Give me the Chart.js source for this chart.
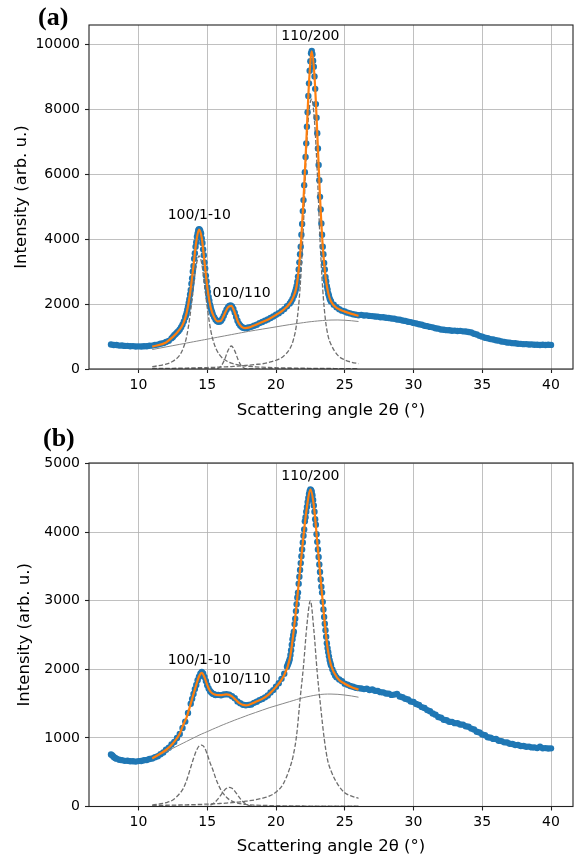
<!DOCTYPE html>
<html>
<head>
<meta charset="utf-8">
<script src="https://cdn.jsdelivr.net/npm/chart.js@4.4.1/dist/chart.umd.min.js"></script>
<style>
  html, body { margin: 0; padding: 0; background: #fff; }
  #wrap { position: relative; width: 577px; height: 857px; overflow: hidden; }
  #chartA { position: absolute; left: 0; top: 0; }
  #chartB { position: absolute; left: 0; top: 428px; }
</style>
</head>
<body>
<div id="wrap">
  <canvas id="chartA" width="577" height="428"></canvas>
  <canvas id="chartB" width="577" height="429"></canvas>
</div>
<script>
// ---- axis ticks ----
const angleTicks = [10, 15, 20, 25, 30, 35, 40];
const intensityTicksA = [0, 2000, 4000, 6000, 8000, 10000];
const intensityTicksB = [0, 1000, 2000, 3000, 4000, 5000];
const peakLabels = ['100/1-10', '010/110', '110/200'];

// ---- panel (a): measured points ----
const angleA = [
  8.0, 8.2, 8.4, 8.6, 8.8, 9.0, 9.2, 9.4, 9.6, 9.8, 10.0, 10.2, 10.4, 10.6, 10.8, 11.0, 11.2, 11.4, 11.6, 11.8, 12.0, 12.2, 12.4,
  12.5, 12.6, 12.7, 12.8, 12.9, 13.0, 13.1, 13.2, 13.3, 13.4,
  13.45, 13.5, 13.55, 13.6, 13.65, 13.7, 13.75, 13.8, 13.85, 13.9, 13.95, 14.0, 14.05, 14.1, 14.15, 14.2, 14.25, 14.3, 14.35, 14.4,
  14.45, 14.5, 14.55, 14.6, 14.65, 14.7, 14.75, 14.8, 14.85, 14.9, 14.95, 15.0, 15.05, 15.1, 15.15, 15.2, 15.25, 15.3, 15.35, 15.4,
  15.5, 15.6, 15.7, 15.8, 15.9, 16.0, 16.1, 16.2, 16.3, 16.4, 16.5, 16.6, 16.7, 16.8, 16.9, 17.0, 17.1, 17.2, 17.3, 17.4, 17.5,
  17.6, 17.7, 17.8, 17.9, 18.0,
  18.2, 18.4, 18.6, 18.8, 19.0, 19.2, 19.4, 19.6, 19.8, 20.0, 20.2, 20.4, 20.6, 20.8, 21.0, 21.1, 21.2, 21.3,
  21.35, 21.4, 21.45, 21.5, 21.55, 21.6, 21.65, 21.7, 21.75, 21.8, 21.85, 21.9, 21.95, 22.0, 22.05, 22.1, 22.15, 22.2, 22.25, 22.3,
  22.35, 22.4, 22.45, 22.5, 22.55, 22.6, 22.65, 22.7, 22.75, 22.8, 22.85, 22.9, 22.95, 23.0, 23.05, 23.1, 23.15, 23.2, 23.25, 23.3,
  23.35, 23.4, 23.45, 23.5, 23.55, 23.6, 23.65, 23.7, 23.75, 23.8, 23.85, 23.9, 23.95, 24.0,
  24.2, 24.4, 24.6, 24.8, 25.0, 25.2, 25.4, 25.6, 25.8, 26.0, 26.2, 26.4, 26.6, 26.8, 27.0, 27.2, 27.4, 27.6, 27.8, 28.0,
  28.2, 28.4, 28.6, 28.8, 29.0, 29.2, 29.4, 29.6, 29.8, 30.0, 30.2, 30.4, 30.6, 30.8, 31.0, 31.2, 31.4, 31.6, 31.8, 32.0,
  32.2, 32.4, 32.6, 32.8, 33.0, 33.2, 33.4, 33.6, 33.8, 34.0, 34.2, 34.4, 34.6, 34.8, 35.0, 35.2, 35.4, 35.6, 35.8, 36.0,
  36.2, 36.4, 36.6, 36.8, 37.0, 37.2, 37.4, 37.6, 37.8, 38.0, 38.2, 38.4, 38.6, 38.8, 39.0, 39.2, 39.4, 39.6, 39.8, 40.0
];
const intensityA = [
  755, 740, 738, 722, 725, 712, 714, 702, 706, 694, 698, 692, 702, 700, 716, 722, 742, 752, 778, 798, 835, 868, 945,
  990, 1040, 1080, 1125, 1165, 1220, 1290, 1370, 1470, 1590,
  1655, 1730, 1830, 1920, 2040, 2150, 2300, 2440, 2630, 2800, 3010, 3180, 3400, 3570, 3770, 3910, 4080, 4180, 4280, 4310,
  4300, 4250, 4180, 4030, 3890, 3690, 3510, 3290, 3100, 2880, 2710, 2520, 2380, 2220, 2110, 1980, 1905, 1815, 1755, 1685,
  1600, 1530, 1480, 1455, 1460, 1490, 1550, 1640, 1740, 1830, 1900, 1945, 1960, 1930, 1850, 1740, 1610, 1490, 1400, 1340, 1300,
  1275, 1265, 1260, 1265, 1280,
  1300, 1335, 1365, 1415, 1448, 1492, 1528, 1575, 1618, 1672, 1718, 1785, 1848, 1935, 2020, 2085, 2160, 2260,
  2320, 2390, 2470, 2560, 2690, 2850, 3070, 3290, 3540, 3770, 4140, 4470, 4870, 5210, 5670, 6070, 6540, 6960, 7470, 7920,
  8420, 8810, 9200, 9490, 9740, 9810, 9710, 9510, 9320, 9020, 8640, 8170, 7750, 7270, 6800, 6290, 5820, 5310, 4920, 4490,
  4140, 3770, 3540, 3270, 3070, 2840, 2710, 2550, 2450, 2330, 2260, 2175, 2125, 2080,
  1985, 1905, 1845, 1800, 1772, 1738, 1715, 1688, 1675, 1660, 1668, 1650, 1655, 1638, 1632, 1618, 1614, 1598, 1594, 1580,
  1575, 1558, 1548, 1528, 1518, 1496, 1484, 1458, 1446, 1422, 1404, 1378, 1364, 1336, 1322, 1298, 1284, 1258, 1244, 1218,
  1212, 1198, 1194, 1182, 1184, 1172, 1176, 1162, 1158, 1142, 1124, 1088, 1064, 1022, 998, 966, 948, 922, 908, 886,
  874, 848, 838, 818, 812, 798, 792, 778, 776, 766, 768, 756, 758, 748, 748, 742, 748, 742, 746, 744
];

// ---- panel (a): fitted curves ----
const compAngleA = [11, 12, 12.5, 13, 13.25, 13.5, 13.75, 14, 14.2, 14.4, 14.6, 14.8, 15, 15.25, 15.5, 15.75, 16, 16.25, 16.5, 16.75,
  17, 17.25, 17.5, 17.75, 18, 18.5, 19, 19.5, 20, 20.5, 21, 21.25, 21.5, 21.75, 22, 22.2, 22.4, 22.6, 22.8, 23, 23.2, 23.4, 23.6,
  23.8, 24, 24.5, 25, 25.5, 26];
const fitA = [690, 820, 990, 1220, 1400, 1730, 2320, 3190, 3920, 4300, 4040, 3300, 2530, 1900, 1600, 1470, 1490, 1690, 1900, 1950,
  1740, 1440, 1300, 1262, 1275, 1360, 1450, 1545, 1670, 1810, 2020, 2210, 2560, 3520, 5220, 6970, 8820, 9800, 9030, 7280, 5320,
  3780, 2850, 2340, 2080, 1860, 1770, 1700, 1640];
const peak1A = [70, 150, 240, 430, 640, 1000, 1650, 2550, 3200, 3490, 3250, 2600, 1900, 1200, 780, 530, 380, 290, 225, 180,
  150, 125, 107, 95, 85, 68, 56, 47, 40, 35, 31, 29, 27, 26, 24, 23, 22, 21, 20, 19, 18, 17, 16, 16, 15, 14, 12, 11, 10];
const peak2A = [0, 0, 0, 0, 0, 0, 0, 0, 0, 0, 0, 0, 0, 0, 0, 15, 85, 280, 560, 710,
  560, 280, 85, 15, 0, 0, 0, 0, 0, 0, 0, 0, 0, 0, 0, 0, 0, 0, 0, 0, 0, 0, 0, 0, 0, 0, 0, 0, 0];
const peak3A = [15, 20, 22, 25, 27, 30, 32, 35, 37, 39, 41, 43, 45, 48, 52, 56, 60, 65, 70, 76,
  83, 90, 98, 108, 118, 140, 160, 205, 270, 380, 620, 880, 1400, 2500, 4500, 6650, 7950, 8320, 7650, 6100, 4000,
  2450, 1500, 1000, 760, 420, 280, 210, 165];
const amorphousA = [600, 680, 720, 760, 780, 800, 820, 840, 856, 872, 888, 904, 920, 940, 960, 980, 1000, 1020, 1040, 1060,
  1080, 1100, 1120, 1140, 1160, 1195, 1230, 1265, 1300, 1335, 1370, 1385, 1400, 1415, 1430, 1442, 1453, 1463, 1472, 1480, 1488,
  1495, 1501, 1506, 1510, 1512, 1505, 1488, 1465];

// ---- panel (b): measured points ----
const angleB = [
  8.0, 8.1, 8.2, 8.3, 8.4, 8.6, 8.8, 9.0, 9.2, 9.4, 9.6, 9.8, 10.0, 10.2, 10.4, 10.6, 10.8, 11.0, 11.2, 11.4, 11.6, 11.8, 12.0,
  12.2, 12.4, 12.6, 12.8, 13.0, 13.2, 13.4, 13.6, 13.8,
  13.9, 14.0, 14.1, 14.2, 14.3, 14.4, 14.5, 14.6, 14.7, 14.8, 14.9, 15.0, 15.1, 15.2, 15.3, 15.4, 15.5, 15.6,
  15.8, 16.0, 16.2, 16.4, 16.6, 16.8, 17.0, 17.2, 17.4, 17.6, 17.8, 18.0, 18.2, 18.4, 18.6, 18.8, 19.0, 19.2, 19.4, 19.6,
  19.8, 20.0, 20.2, 20.4, 20.6, 20.8,
  20.85, 20.9, 20.95, 21.0, 21.05, 21.1, 21.15, 21.2, 21.25, 21.3, 21.35, 21.4, 21.45, 21.5, 21.55, 21.6, 21.65, 21.7, 21.75, 21.8,
  21.85, 21.9, 21.95, 22.0, 22.05, 22.1, 22.15, 22.2, 22.25, 22.3, 22.35, 22.4, 22.45, 22.5, 22.55, 22.6, 22.65, 22.7, 22.75, 22.8,
  22.85, 22.9, 22.95, 23.0, 23.05, 23.1, 23.15, 23.2, 23.25, 23.3, 23.35, 23.4, 23.45, 23.5, 23.55, 23.6, 23.65, 23.7, 23.75, 23.8,
  23.85, 23.9, 23.95, 24.0,
  24.1, 24.2, 24.3, 24.4, 24.6, 24.8, 25.0, 25.2, 25.4, 25.6, 25.8, 26.0,
  26.2, 26.4, 26.6, 26.8, 27.0, 27.2, 27.4, 27.6, 27.8, 28.0, 28.2, 28.4, 28.6, 28.8, 29.0, 29.2, 29.4, 29.6, 29.8, 30.0,
  30.2, 30.4, 30.6, 30.8, 31.0, 31.2, 31.4, 31.6, 31.8, 32.0, 32.2, 32.4, 32.6, 32.8, 33.0, 33.2, 33.4, 33.6, 33.8, 34.0,
  34.2, 34.4, 34.6, 34.8, 35.0, 35.2, 35.4, 35.6, 35.8, 36.0, 36.2, 36.4, 36.6, 36.8, 37.0, 37.2, 37.4, 37.6, 37.8, 38.0,
  38.2, 38.4, 38.6, 38.8, 39.0, 39.2, 39.4, 39.6, 39.8, 40.0
];
const intensityB = [
  760, 745, 722, 708, 698, 682, 676, 666, 668, 659, 661, 655, 662, 664, 674, 678, 692, 700, 718, 733, 762, 788, 828,
  858, 905, 942, 1000, 1058, 1145, 1238, 1365, 1498,
  1570, 1640, 1712, 1772, 1842, 1893, 1938, 1962, 1942, 1888, 1832, 1768, 1722, 1684, 1662, 1643, 1637, 1626,
  1628, 1622, 1634, 1638, 1632, 1608, 1578, 1532, 1507, 1484, 1476, 1482, 1488, 1512, 1528, 1552, 1568, 1592, 1618, 1662,
  1698, 1748, 1798, 1862, 1938, 2040,
  2065, 2090, 2120, 2150, 2210, 2280, 2360, 2440, 2500, 2550, 2660, 2740, 2850, 2950, 3050, 3120, 3250, 3350, 3450, 3550,
  3650, 3750, 3850, 3950, 4040, 4160, 4220, 4300, 4370, 4440, 4500, 4560, 4600, 4625, 4615, 4590, 4540, 4470, 4390, 4300,
  4190, 4110, 3970, 3860, 3750, 3640, 3530, 3420, 3310, 3205, 3120, 2985, 2875, 2765, 2665, 2570, 2475, 2380, 2310, 2250,
  2190, 2135, 2095, 2060,
  2000, 1950, 1912, 1884, 1852, 1828, 1792, 1776, 1758, 1746, 1733, 1726,
  1722, 1712, 1718, 1700, 1706, 1688, 1684, 1668, 1664, 1648, 1646, 1628, 1632, 1640, 1604, 1594, 1572, 1560, 1532, 1524,
  1496, 1480, 1450, 1436, 1406, 1390, 1356, 1340, 1306, 1294, 1266, 1258, 1236, 1234, 1216, 1214, 1196, 1194, 1170, 1164,
  1136, 1124, 1090, 1080, 1050, 1040, 1010, 1004, 986, 984, 960, 954, 936, 934, 916, 912, 896, 898, 882, 882,
  872, 874, 862, 862, 852, 874, 850, 852, 846, 848
];

// ---- panel (b): fitted curves ----
const compAngleB = [11, 12, 12.5, 13, 13.25, 13.5, 13.75, 14, 14.2, 14.4, 14.6, 14.8, 15, 15.2, 15.4, 15.6, 15.8, 16, 16.2, 16.4,
  16.6, 16.8, 17, 17.2, 17.4, 17.6, 17.8, 18, 18.5, 19, 19.5, 20, 20.5, 21, 21.25, 21.5, 21.75, 22, 22.25, 22.5, 22.75, 23,
  23.25, 23.5, 23.75, 24, 24.5, 25, 25.5, 26];
const fitB = [700, 825, 920, 1060, 1190, 1300, 1465, 1640, 1775, 1895, 1950, 1885, 1770, 1685, 1645, 1630, 1625, 1625, 1630, 1635,
  1628, 1605, 1570, 1530, 1500, 1482, 1476, 1480, 1525, 1570, 1640, 1745, 1880, 2150, 2500, 2950, 3450, 3950, 4370, 4625, 4390,
  3860, 3310, 2765, 2310, 2060, 1865, 1790, 1740, 1705];
const peak1B = [20, 55, 95, 190, 260, 380, 540, 700, 810, 880, 896, 860, 760, 640, 540, 420, 320, 240, 180, 135,
  100, 78, 62, 50, 42, 35, 30, 26, 20, 16, 14, 12, 10, 9, 8, 8, 7, 7, 6, 6, 6, 5, 5, 5, 5, 5, 4, 4, 4, 4];
const peak2B = [0, 0, 0, 0, 0, 0, 0, 0, 0, 0, 0, 0, 0, 18, 38, 70, 115, 170, 225, 265,
  280, 265, 225, 170, 115, 70, 38, 18, 2, 0, 0, 0, 0, 0, 0, 0, 0, 0, 0, 0, 0, 0, 0, 0, 0, 0, 0, 0, 0, 0];
const peak3B = [15, 18, 20, 22, 23, 25, 26, 28, 29, 31, 32, 34, 35, 37, 39, 41, 43, 45, 47, 50,
  53, 56, 59, 63, 67, 72, 77, 82, 98, 120, 150, 210, 320, 560, 740, 1040, 1560, 2050, 2650, 3000, 2580,
  1950, 1450, 1000, 680, 520, 320, 200, 150, 120];
const amorphousB = [700, 800, 850, 900, 925, 950, 975, 1000, 1020, 1040, 1058, 1075, 1092, 1110, 1128, 1145, 1162, 1180, 1196, 1212,
  1228, 1244, 1260, 1275, 1290, 1305, 1320, 1335, 1370, 1405, 1440, 1470, 1500, 1530, 1545, 1560, 1575, 1588, 1600, 1610, 1620,
  1628, 1634, 1638, 1640, 1640, 1636, 1626, 1612, 1594];

// where the peak names sit, in data units (angle, intensity)
const labelAnchorsA = [[14.42, 4726], [17.5, 2338], [22.5, 10245]];
const labelAnchorsB = [[14.42, 2136], [17.5, 1859], [22.5, 4808]];

Chart.defaults.font.family = '"DejaVu Sans", sans-serif';
Chart.defaults.font.size = 14;
Chart.defaults.color = '#000';

function pts(xs, ys) {
  return xs.map((x, i) => ({ x: x, y: ys[i] }));
}

// frame round the plot, peak names and panel letter
const panelDecor = {
  id: 'panelDecor',
  afterDatasetsDraw(chart, args, opts) {
    const { ctx, chartArea: a, scales } = chart;
    ctx.save();
    ctx.strokeStyle = '#222';
    ctx.lineWidth = 1.1;
    ctx.strokeRect(a.left, a.top, a.right - a.left, a.bottom - a.top);

    ctx.fillStyle = '#000';
    ctx.font = '14px "DejaVu Sans"';
    ctx.textAlign = 'center';
    ctx.textBaseline = 'middle';
    peakLabels.forEach((t, i) => {
      const p = opts.anchors[i];
      ctx.fillText(t, scales.x.getPixelForValue(p[0]), scales.y.getPixelForValue(p[1]));
    });

    ctx.font = 'bold 26px "Liberation Serif"';
    ctx.textAlign = 'left';
    ctx.fillText(opts.letter, opts.letterX, opts.letterY);
    ctx.restore();
  }
};

function makePanel(id, cfg) {
  const dashed = (vals) => ({
    data: pts(cfg.compAngle, vals),
    showLine: true,
    borderColor: '#6e6e6e',
    borderWidth: 1.3,
    borderDash: [4.5, 2],
    pointRadius: 0,
    cubicInterpolationMode: 'monotone'
  });

  return new Chart(document.getElementById(id), {
    type: 'scatter',
    data: {
      datasets: [
        {
          data: pts(cfg.compAngle, cfg.fit),
          showLine: true,
          borderColor: '#ff7f0e',
          borderWidth: 2.2,
          pointRadius: 0,
          cubicInterpolationMode: 'monotone'
        },
        dashed(cfg.peak1),
        dashed(cfg.peak2),
        dashed(cfg.peak3),
        {
          data: pts(cfg.compAngle, cfg.amorphous),
          showLine: true,
          borderColor: '#888',
          borderWidth: 1,
          pointRadius: 0,
          cubicInterpolationMode: 'monotone'
        },
        {
          data: pts(cfg.angle, cfg.intensity),
          showLine: false,
          pointRadius: 3.2,
          pointBackgroundColor: '#1f77b4',
          pointBorderWidth: 0
        }
      ]
    },
    options: {
      responsive: false,
      animation: false,
      devicePixelRatio: 1,
      events: [],
      layout: { padding: { top: cfg.padTop, right: 2, left: 0, bottom: 0 } },
      plugins: {
        legend: { display: false },
        tooltip: { enabled: false },
        panelDecor: { anchors: cfg.anchors, letter: cfg.letter, letterX: cfg.letterX, letterY: cfg.letterY }
      },
      scales: {
        x: {
          type: 'linear',
          min: 6.4,
          max: 41.6,
          afterBuildTicks: (s) => { s.ticks = angleTicks.map(v => ({ value: v })); },
          afterFit: (s) => { s.height = cfg.xAxisHeight; },
          ticks: { autoSkip: false, maxRotation: 0, padding: 3.5, font: { size: 14 }, color: '#000' },
          grid: { color: '#b0b0b0', lineWidth: 0.8, tickColor: '#222', tickLength: 4, tickWidth: 1.1 },
          border: { display: false },
          title: {
            display: true,
            text: 'Scattering angle 2\u03b8 (\u00b0)',
            font: { size: 16.5 },
            color: '#000',
            padding: { top: 0, bottom: cfg.xTitlePad }
          }
        },
        y: {
          type: 'linear',
          min: 0,
          max: cfg.yMax,
          afterBuildTicks: (s) => { s.ticks = cfg.yTicks.map(v => ({ value: v })); },
          afterFit: (s) => { s.width = 89; },
          ticks: { padding: 5, font: { size: 14 }, color: '#000', callback: (v) => String(v) },
          grid: { color: '#b0b0b0', lineWidth: 0.8, tickColor: '#222', tickLength: 4, tickWidth: 1.1 },
          border: { display: false },
          title: {
            display: true,
            text: 'Intensity (arb. u.)',
            font: { size: 16.5 },
            color: '#000',
            padding: { top: cfg.yTitlePad, bottom: 0 }
          }
        }
      }
    },
    plugins: [panelDecor]
  });
}

makePanel('chartA', {
  angle: angleA, intensity: intensityA,
  compAngle: compAngleA, fit: fitA, peak1: peak1A, peak2: peak2A, peak3: peak3A, amorphous: amorphousA,
  yMax: 10610, yTicks: intensityTicksA, anchors: labelAnchorsA,
  padTop: 25, xAxisHeight: 59, xTitlePad: 7, yTitlePad: 12,
  letter: '(a)', letterX: 38, letterY: 18
});

makePanel('chartB', {
  angle: angleB, intensity: intensityB,
  compAngle: compAngleB, fit: fitB, peak1: peak1B, peak2: peak2B, peak3: peak3B, amorphous: amorphousB,
  yMax: 5010, yTicks: intensityTicksB, anchors: labelAnchorsB,
  padTop: 35, xAxisHeight: 50.5, xTitlePad: 0.5, yTitlePad: 15,
  letter: '(b)', letterX: 43, letterY: 11
});
</script>
</body>
</html>
